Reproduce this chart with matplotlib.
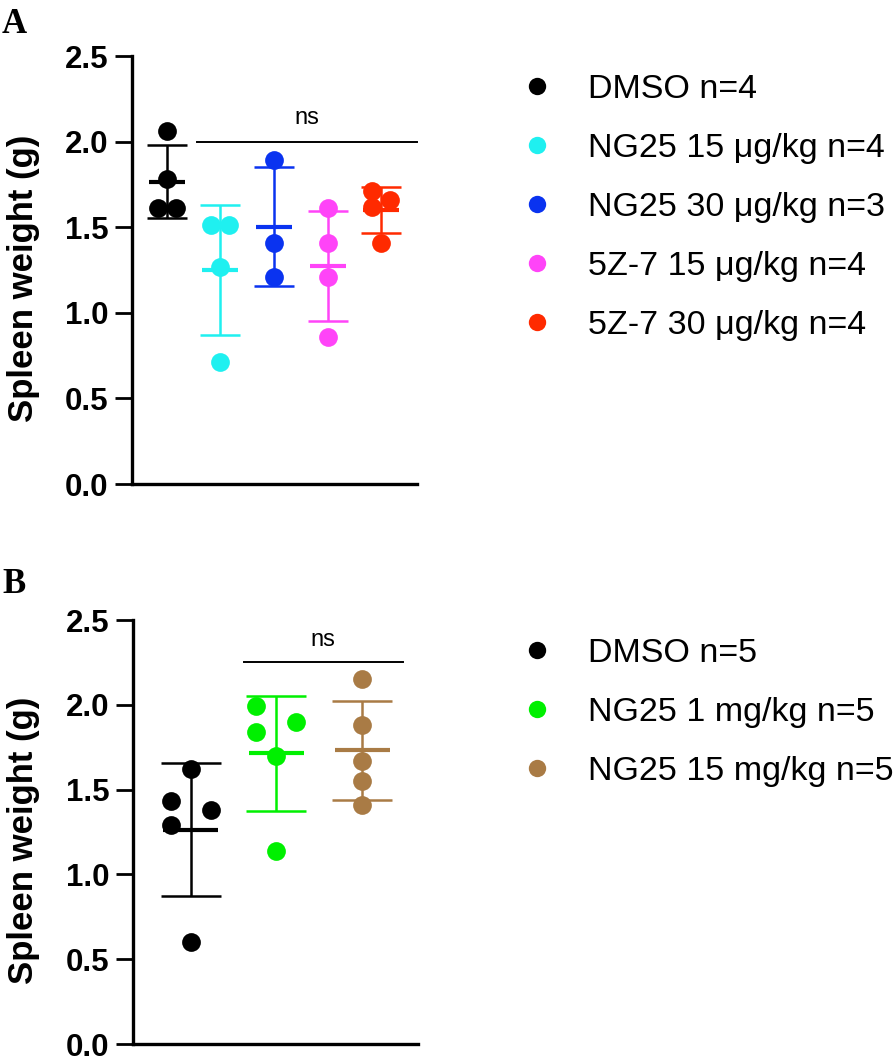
import numpy as np
import matplotlib
matplotlib.use("Agg")
import matplotlib.pyplot as plt
from matplotlib.lines import Line2D

plt.rcParams['font.family'] = ['Liberation Sans', 'DejaVu Sans']

# ---------------- data ----------------
labels_A = ["DMSO n=4", "NG25 15 μg/kg n=4", "NG25 30 μg/kg n=3",
            "5Z-7 15 μg/kg n=4", "5Z-7 30 μg/kg n=4"]
dmso_A = [2.06, 1.78, 1.61, 1.61]
ng25_15_A = [1.51, 1.51, 1.27, 0.71]
ng25_30_A = [1.89, 1.41, 1.21]
z7_15_A = [1.61, 1.41, 1.21, 0.86]
z7_30_A = [1.71, 1.66, 1.62, 1.41]
colors_A = ["#000000", "#1ff0f0", "#0a33f0", "#ff44f8", "#ff2a00"]

labels_B = ["DMSO n=5", "NG25 1 mg/kg n=5", "NG25 15 mg/kg n=5"]
dmso_B = [1.62, 1.43, 1.38, 1.29, 0.60]
ng25_1_B = [1.99, 1.90, 1.84, 1.70, 1.14]
ng25_15_B = [2.15, 1.88, 1.67, 1.55, 1.41]
colors_B = ["#000000", "#00f000", "#a97b45"]

yticks = [0.0, 0.5, 1.0, 1.5, 2.0, 2.5]
ylabel = "Spleen weight (g)"
ns_A = 2.0
ns_B = 2.25

groups_A = [dmso_A, ng25_15_A, ng25_30_A, z7_15_A, z7_30_A]
groups_B = [dmso_B, ng25_1_B, ng25_15_B]

W, H = 896, 1061
fig = plt.figure(figsize=(W / 100, H / 100), dpi=100)


def swarm_offsets(vals, gap, spread):
    order = np.argsort(vals)[::-1]
    sv = np.asarray(vals)[order]
    offs = np.zeros(len(vals))
    clusters = []
    cur = [0]
    for i in range(1, len(sv)):
        if sv[i - 1] - sv[i] < gap:
            cur.append(i)
        else:
            clusters.append(cur)
            cur = [i]
    clusters.append(cur)
    for c in clusters:
        if len(c) >= 2:
            for k, idx in enumerate(c):
                offs[order[idx]] = spread * (-1 if k % 2 == 0 else 1)
    return offs


def panel(rect, groups, colors, xlim, spread, mean_hw, cap_pt, ns_y, ns_x0, ns_x1, ns_text_y):
    ax = fig.add_axes(rect)
    for i, (vals, c) in enumerate(zip(groups, colors)):
        vals = np.asarray(vals, dtype=float)
        m = vals.mean()
        sd = vals.std(ddof=1)
        offs = swarm_offsets(vals, 0.105, spread)
        ax.errorbar([i], [m], yerr=[sd], fmt='none', ecolor=c, elinewidth=1.8,
                    capsize=cap_pt, capthick=1.8, zorder=2)
        ax.plot(i + offs, vals, 'o', color=c, markersize=13.5, markeredgewidth=0, zorder=3)
        ax.hlines(m, i - mean_hw, i + mean_hw, color=c, lw=3.0, zorder=4)
    ax.set_xlim(*xlim)
    ax.set_ylim(0, 2.5)
    ax.set_yticks(yticks)
    ax.set_yticklabels([f"{t:.1f}" for t in yticks], fontsize=22.5, fontweight='bold')
    ax.set_xticks([])
    for s in ['top', 'right']:
        ax.spines[s].set_visible(False)
    for s in ['left', 'bottom']:
        ax.spines[s].set_linewidth(2.4)
    ax.tick_params(axis='y', length=12, width=2.0, pad=5)
    ax.plot([ns_x0, ns_x1], [ns_y, ns_y], color='black', lw=1.4, clip_on=False)
    ax.text((ns_x0 + ns_x1) / 2, ns_text_y, "ns", ha='center', va='center', fontsize=17)
    return ax


axA = panel([132 / W, 1 - 484 / H, 285 / W, 428 / H], groups_A, colors_A,
            (-0.65, 4.67), 0.168, 0.336, 14.4, ns_A, 0.56, 4.67, 2.14)
axB = panel([133 / W, 1 - 1044 / H, 285 / W, 424 / H], groups_B, colors_B,
            (-0.67, 2.65), 0.233, 0.32, 21.6, ns_B, 0.62, 2.47, 2.38)

fig.text(24 / W, 1 - 278 / H, ylabel, rotation=90, ha='center', va='center',
         fontsize=25, fontweight='bold')
fig.text(24 / W, 1 - 840 / H, ylabel, rotation=90, ha='center', va='center',
         fontsize=25, fontweight='bold')

fig.text(2 / W, 1 - 8 / H, "A", ha='left', va='top', fontsize=25, fontweight='bold',
         family='Liberation Serif')
fig.text(2 / W, 1 - 568 / H, "B", ha='left', va='top', fontsize=25, fontweight='bold',
         family='Liberation Serif')


def legend(labels, colors, top_px):
    handles = [Line2D([], [], marker='o', linestyle='none', color=c, markersize=12.5,
                      markeredgewidth=0) for c in colors]
    fig.legend(handles, labels, loc='upper left',
               bbox_to_anchor=(520 / W, 1 - top_px / H), bbox_transform=fig.transFigure,
               frameon=False, fontsize=24.5, handlelength=1.0, handletextpad=1.0,
               labelspacing=0.82, borderpad=0, borderaxespad=0)


legend(labels_A, colors_A, 74)
legend(labels_B, colors_B, 638)

fig.savefig("out.png", dpi=100)
